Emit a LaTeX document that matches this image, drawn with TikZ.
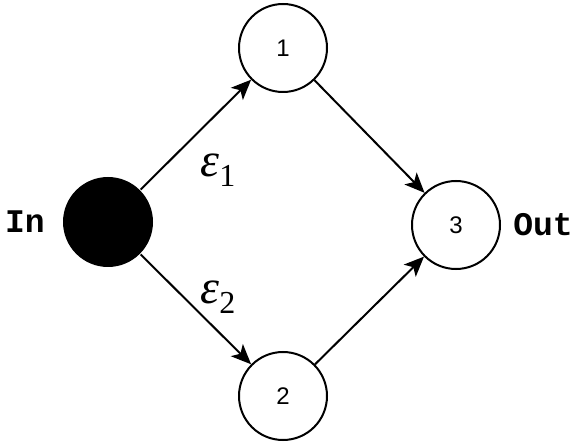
\documentclass[tikz,border=0pt]{standalone}
\usepackage{fontspec}
\setmainfont{Liberation Sans}
\setmonofont{Liberation Mono}
\newfontfamily\timesf{Liberation Serif}
\usetikzlibrary{arrows.meta}
\newcommand{\epslab}[1]{{\timesf\itshape ε}\raisebox{-0.22em}{\timesf\upshape\fontsize{32}{32}\selectfont #1}}
\begin{document}
\begin{tikzpicture}[x=1pt,y=-1pt, line width=2pt,
  state/.style={circle,draw,minimum size=88pt,inner sep=0pt,font=\fontsize{24}{24}\selectfont},
  port/.style={font=\fontsize{33}{33}\selectfont\ttfamily\bfseries},
  arr/.style={-{Stealth[length=20pt,width=17pt,inset=5pt]}},
  elab/.style={font=\fontsize{48}{48}\selectfont,inner sep=0pt}]
\useasboundingbox (0,0) rectangle (581,446);
\node[circle,fill=black,minimum size=90pt,inner sep=0pt] (in) at (108,222) {};
\node[state] (n1) at (283,48) {1};
\node[state] (n2) at (283,396) {2};
\node[state] (n3) at (456,225) {3};
\node[port] (inl) at (25,222) {In};
\node[port] (outl) at (543,225) {Out};
\draw[arr] (in) -- (n1);
\draw[arr] (in) -- (n2);
\draw[arr] (n1) -- (n3);
\draw[arr] (n2) -- (n3);
\node[elab] (e1) at (218,170) {\epslab{1}};
\node[elab] (e2) at (218,297) {\epslab{2}};
\end{tikzpicture}
\end{document}
